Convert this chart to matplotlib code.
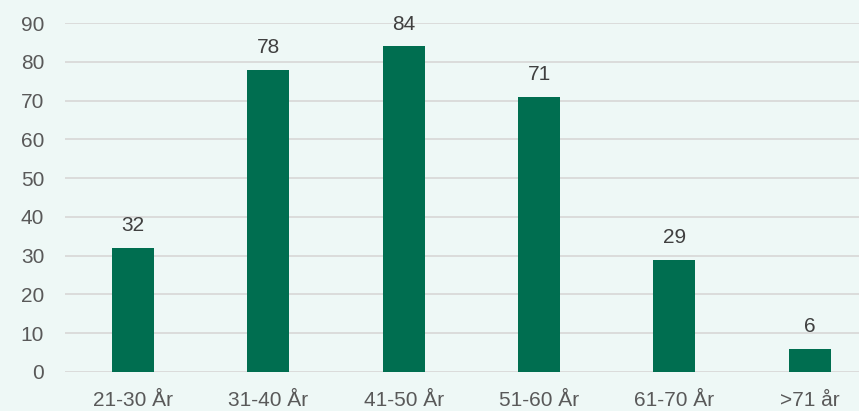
import matplotlib.pyplot as plt

plt.rcParams['font.family'] = ['Liberation Sans', 'DejaVu Sans']

# Age groups and counts
categories = ['21-30 År', '31-40 År', '41-50 År', '51-60 År', '61-70 År', '>71 år']
counts = [32, 78, 84, 71, 29, 6]
yticks = [0, 10, 20, 30, 40, 50, 60, 70, 80, 90]

bg = '#EEF8F6'
bar_col = '#006E50'
txt_col = '#595959'

fig = plt.figure(figsize=(8.59, 4.11), dpi=100, facecolor=bg)
ax = fig.add_axes([0.0757, 0.0949, 0.946, 0.849], facecolor=bg)

x = range(len(categories))
bars = ax.bar(x, counts, width=0.31, color=bar_col, zorder=3)

for xi, v in zip(x, counts):
    ax.annotate(str(v), (xi, v), xytext=(0, 9), textcoords='offset points',
                ha='center', va='bottom', fontsize=15, color='#404040')

ax.set_xlim(-0.5, len(categories) - 0.5)
ax.set_ylim(0, 90)
ax.set_yticks(yticks)
ax.yaxis.grid(True, color='#D9D9D9', linewidth=1.3, zorder=0)
ax.set_xticks(list(x))
ax.set_xticklabels(categories)
ax.tick_params(axis='both', length=0, labelsize=15, colors=txt_col)
ax.tick_params(axis='x', pad=14)
ax.tick_params(axis='y', pad=15)
for s in ax.spines.values():
    s.set_visible(False)

fig.savefig('out.png', dpi=100, facecolor=bg)
